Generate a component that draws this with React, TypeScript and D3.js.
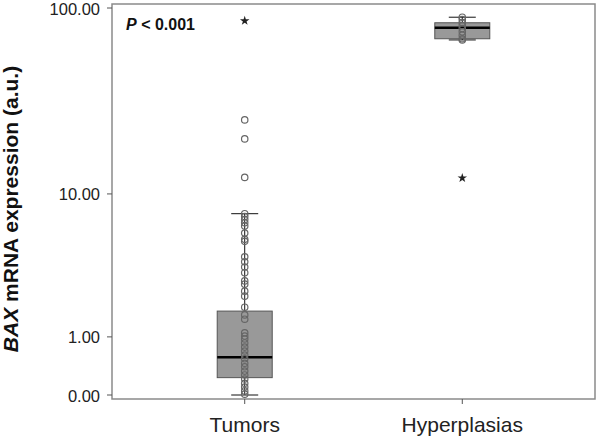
import React from "react";
import * as d3 from "d3";

const categories = ["Tumors", "Hyperplasias"];
// box stats: [whiskerLow, q1, median, q3, whiskerHigh]
const boxStats = [
  [0.0, 0.23, 0.57, 1.72, 7.69],
  [68.0, 69.0, 78.8, 83.7, 89.5],
];
const pointsTumors = [
  7.69, 7.4, 7.1, 6.8, 6.5, 5.9, 5.4, 5.25, 4.2, 3.9, 3.6, 3.3, 2.9, 2.75, 2.45,
  2.25, 1.85, 1.6, 1.47, 1.1, 1.02, 0.95, 0.86, 0.77, 0.69, 0.61, 0.54, 0.46,
  0.4, 0.33, 0.27, 0.21, 0.15, 0.1, 0.05, 0.01,
];
const pointsHyper = [89.5, 87, 84, 81, 78, 75, 72, 69, 68];
const outlierCirclesTumors = [25.6, 20.2, 12.4];
const extremeTumors = [85.7];
const extremeHyper = [12.3];
const yTicks = [0, 1, 10, 100];

export default function App() {
  const W = 600, H = 438;
  const left = 112, right = 595, top = 4, bottom = 399;
  const x = d3.scalePoint<string>().domain(categories).range([left, right]).padding(0.61);
  const y = d3.scaleSymlog().constant(1).domain([0, 100]).range([395, 8]);
  const boxW = 55, capW = 27;
  const star = d3.symbol().type(d3.symbolStar).size(28)();
  const pointSets = [pointsTumors.concat(outlierCirclesTumors), pointsHyper];
  const extremes = [extremeTumors, extremeHyper];
  const font = "Liberation Sans, Arial, sans-serif";

  return (
    <svg width={W} height={H} style={{ position: "absolute", left: 0, top: 0, background: "#fff" }}>
      {/* frame */}
      <rect x={left} y={top} width={right - left} height={bottom - top} fill="none" stroke="#8a8a8a" strokeWidth={1.5} />
      {/* y ticks */}
      {yTicks.map((t) => (
        <g key={t}>
          <line x1={left - 5} x2={left} y1={y(t)} y2={y(t)} stroke="#555" strokeWidth={1} />
          <text x={left - 12} y={y(t) + 6.5} textAnchor="end" fontFamily={font} fontSize={16.5} fill="#222">
            {t.toFixed(2)}
          </text>
        </g>
      ))}
      {/* x ticks */}
      {categories.map((c) => (
        <g key={c}>
          <line x1={x(c)} x2={x(c)} y1={bottom} y2={bottom + 5} stroke="#555" strokeWidth={1} />
          <text x={x(c)} y={432} textAnchor="middle" fontFamily={font} fontSize={21} fill="#222">
            {c}
          </text>
        </g>
      ))}
      {/* boxes */}
      {categories.map((c, i) => {
        const [wl, q1, med, q3, wh] = boxStats[i];
        const cx = x(c) as number;
        return (
          <g key={c}>
            <line x1={cx} x2={cx} y1={y(wh)} y2={y(q3)} stroke="#111" strokeWidth={1} />
            <line x1={cx} x2={cx} y1={y(q1)} y2={y(wl)} stroke="#111" strokeWidth={1} />
            <line x1={cx - capW / 2} x2={cx + capW / 2} y1={y(wh)} y2={y(wh)} stroke="#111" strokeWidth={1} />
            <line x1={cx - capW / 2} x2={cx + capW / 2} y1={y(wl)} y2={y(wl)} stroke="#111" strokeWidth={1} />
            <rect x={cx - boxW / 2} y={y(q3)} width={boxW} height={y(q1) - y(q3)} fill="#999" stroke="#555" strokeWidth={1} />
            <line x1={cx - boxW / 2} x2={cx + boxW / 2} y1={y(med)} y2={y(med)} stroke="#000" strokeWidth={2.5} />
            {pointSets[i].map((v, j) => (
              <circle key={j} cx={cx} cy={y(v)} r={3.2} fill="none" stroke="#666" strokeWidth={1.2} />
            ))}
            {extremes[i].map((v, j) => (
              <path key={j} d={star as string} transform={`translate(${cx},${y(v)})`} fill="#222" />
            ))}
          </g>
        );
      })}
      {/* p-value */}
      <text x={126} y={30} fontFamily={font} fontSize={16} fontWeight="bold" fill="#111">
        <tspan fontStyle="italic">P</tspan> {"< 0.001"}
      </text>
      {/* y-axis title */}
      <text
        transform={`translate(18,209) rotate(-90)`}
        textAnchor="middle"
        fontFamily={font}
        fontSize={21}
        fontWeight="bold"
        fill="#111"
      >
        <tspan fontStyle="italic">BAX</tspan> mRNA expression (a.u.)
      </text>
    </svg>
  );
}
